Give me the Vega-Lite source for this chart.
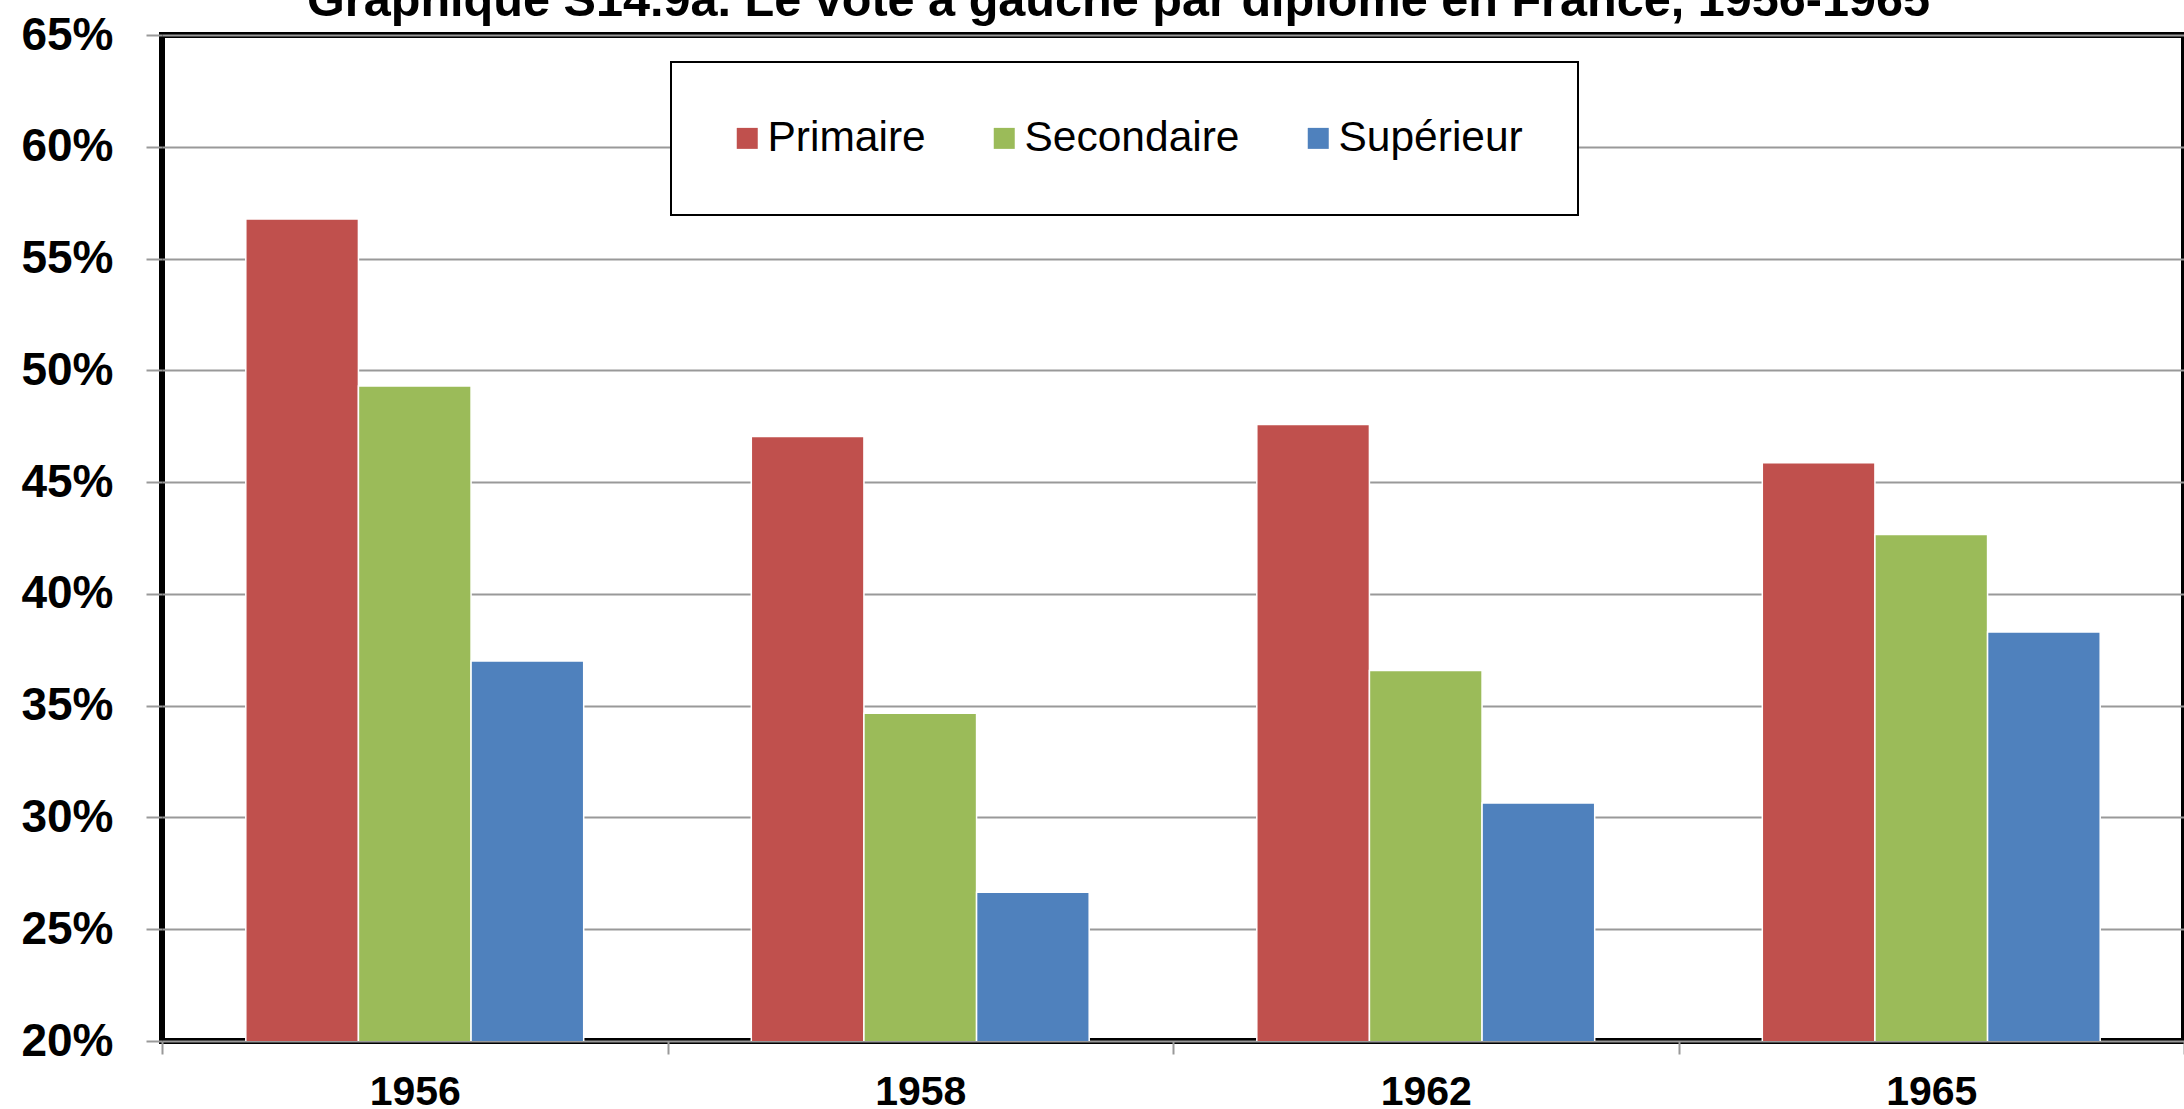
{
  "$schema": "https://vega.github.io/schema/vega-lite/v6.json",
  "width": 2022,
  "height": 1006,
  "autosize": {"type": "none"},
  "padding": {"left": 162, "top": 35, "right": 0, "bottom": 68},
  "background": "white",
  "title": {
    "text": "Graphique S14.9a. Le vote à gauche par diplôme en France, 1956-1965",
    "anchor": "start",
    "frame": "group",
    "dx": 145,
    "font": "Liberation Sans",
    "fontSize": 48.6,
    "fontWeight": "bold",
    "color": "#000",
    "offset": -15
  },
  "data": {
    "values": [
      {"annee": "1956", "diplome": "Primaire", "vote": 56.77},
      {"annee": "1956", "diplome": "Secondaire", "vote": 49.3},
      {"annee": "1956", "diplome": "Supérieur", "vote": 37.0},
      {"annee": "1958", "diplome": "Primaire", "vote": 47.04},
      {"annee": "1958", "diplome": "Secondaire", "vote": 34.66},
      {"annee": "1958", "diplome": "Supérieur", "vote": 26.65},
      {"annee": "1962", "diplome": "Primaire", "vote": 47.58},
      {"annee": "1962", "diplome": "Secondaire", "vote": 36.57},
      {"annee": "1962", "diplome": "Supérieur", "vote": 30.65},
      {"annee": "1965", "diplome": "Primaire", "vote": 45.87},
      {"annee": "1965", "diplome": "Secondaire", "vote": 42.66},
      {"annee": "1965", "diplome": "Supérieur", "vote": 38.3}
    ]
  },
  "mark": {"type": "bar", "stroke": "white", "strokeWidth": 1.5, "clip": true},
  "encoding": {
    "x": {
      "field": "annee",
      "type": "nominal",
      "sort": null,
      "scale": {"paddingInner": 0, "paddingOuter": 0},
      "axis": {
        "title": null,
        "labelAngle": 0,
        "labelFont": "Liberation Sans",
        "labelFontSize": 41,
        "labelFontWeight": "bold",
        "labelColor": "#000",
        "tickBand": "extent",
        "tickSize": 13,
        "tickColor": "#999999",
        "tickWidth": 2,
        "domain": false,
        "grid": false,
        "labelPadding": 18
      }
    },
    "xOffset": {
      "field": "diplome",
      "type": "nominal",
      "sort": ["Primaire", "Secondaire", "Supérieur"],
      "scale": {"paddingInner": 0, "paddingOuter": 0.744}
    },
    "y": {
      "field": "vote",
      "type": "quantitative",
      "scale": {"domain": [20, 65], "zero": false, "nice": false},
      "axis": {
        "title": null,
        "values": [20, 25, 30, 35, 40, 45, 50, 55, 60, 65],
        "labelExpr": "datum.value + '%'",
        "labelFont": "Liberation Sans",
        "labelFontSize": 46,
        "labelFontWeight": "bold",
        "labelColor": "#000",
        "labelOverlap": false,
        "labelPadding": 33,
        "tickSize": 16,
        "tickColor": "#999999",
        "tickWidth": 2,
        "domain": false,
        "grid": true,
        "gridColor": "#999999",
        "gridWidth": 2,
        "gridOpacity": 1
      }
    },
    "color": {
      "field": "diplome",
      "type": "nominal",
      "sort": ["Primaire", "Secondaire", "Supérieur"],
      "scale": {
        "domain": ["Primaire", "Secondaire", "Supérieur"],
        "range": ["#C0504D", "#9BBB59", "#4F81BD"]
      },
      "legend": {
        "orient": "none",
        "legendX": 509,
        "legendY": 27,
        "direction": "horizontal",
        "title": null,
        "symbolType": "square",
        "symbolSize": 441,
        "symbolStrokeWidth": 0,
        "symbolOpacity": 1,
        "labelFont": "Liberation Sans",
        "labelFontSize": 42.5,
        "labelColor": "#000",
        "labelOffset": -1,
        "labelLimit": 400,
        "columnPadding": 57,
        "padding": 55,
        "strokeColor": "#000",
        "fillColor": "white"
      }
    }
  },
  "config": {
    "view": {"stroke": "#000", "strokeWidth": 6},
    "legend": {"strokeWidth": 2}
  }
}
